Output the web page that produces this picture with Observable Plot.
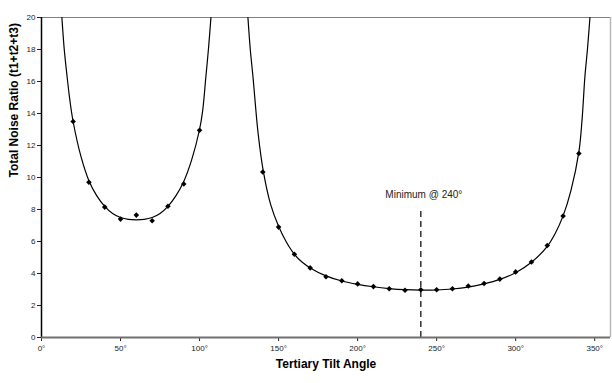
<!DOCTYPE html>
<html>
<head>
<meta charset="utf-8">
<script src="https://cdn.jsdelivr.net/npm/d3@7"></script>
<script src="https://cdn.jsdelivr.net/npm/@observablehq/plot@0.6"></script>
<style>
  html, body { margin: 0; padding: 0; background: #fff; }
  #chart svg { display: block; font-family: "Liberation Sans", Arial, sans-serif; }
</style>
</head>
<body>
<div id="chart"></div>
<script>
// Measured points
const pointAngles = [20, 30, 40, 50, 60, 70, 80, 90, 100,
  140, 150, 160, 170, 180, 190, 200, 210, 220, 230, 240, 250, 260, 270, 280, 290, 300, 310, 320, 330, 340];
const pointValues = [13.5, 9.7, 8.15, 7.4, 7.65, 7.3, 8.2, 9.6, 12.95,
  10.35, 6.9, 5.2, 4.35, 3.8, 3.55, 3.35, 3.18, 3.05, 2.95, 2.98, 2.98, 3.05, 3.22, 3.37, 3.65, 4.1, 4.72, 5.75, 7.6, 11.5];

// Fitted curve, left branch
const leftCurveAngles = [12.9, 14.4, 16.2, 18, 20, 25, 30, 35, 40, 45, 50, 55, 60, 65, 70, 75, 80, 85, 90, 95, 100, 102, 104, 105.6, 107.2];
const leftCurveValues = [20, 18, 16.3, 14.8, 13.5, 11.3, 9.8, 8.85, 8.2, 7.75, 7.5, 7.38, 7.35, 7.38, 7.5, 7.75, 8.2, 8.85, 9.75, 11.1, 13.0, 14.2, 16.3, 18, 20];

// Fitted curve, right branch
const rightCurveAngles = [130.6, 132.1, 133.8, 137, 140.5, 145, 150, 155, 160, 165, 170, 180, 190, 200, 210, 220, 230, 240, 250, 260, 270, 280, 290, 300, 310, 320, 325, 330, 335, 340, 342, 343.8, 345.4, 347];
const rightCurveValues = [20, 18, 16.3, 12.8, 10.3, 8.3, 6.95, 5.95, 5.2, 4.7, 4.35, 3.85, 3.53, 3.32, 3.17, 3.06, 2.99, 2.96, 2.97, 3.03, 3.15, 3.35, 3.63, 4.05, 4.7, 5.7, 6.5, 7.6, 9.2, 11.6, 13.6, 16.3, 18, 20];

const xTicks = [0, 50, 100, 150, 200, 250, 300, 350];
const yTicks = [0, 2, 4, 6, 8, 10, 12, 14, 16, 18, 20];

const minAngle = 240;
const minLineTop = 8.05;
const minLabel = "Minimum @ 240°";
const xTitle = "Tertiary Tilt Angle";
const yTitle = "Total Noise Ratio (t1+t2+t3)";

const points = pointAngles.map((a, i) => ({a, v: pointValues[i]}));
const leftCurve = leftCurveAngles.map((a, i) => ({a, v: leftCurveValues[i]}));
const rightCurve = rightCurveAngles.map((a, i) => ({a, v: rightCurveValues[i]}));

const chart = Plot.plot({
  width: 612,
  height: 383,
  marginTop: 17,
  marginBottom: 46,
  marginLeft: 41,
  marginRight: 2,
  style: {fontFamily: "Liberation Sans, Arial, sans-serif", background: "#fff"},
  x: {domain: [0, 360]},
  y: {domain: [0, 20]},
  marks: [
    // frame borders
    Plot.ruleY([20], {stroke: "#808080", strokeWidth: 1}),
    Plot.ruleX([360], {stroke: "#b8b8b8", strokeWidth: 1.5}),
    // dashed minimum line
    Plot.ruleX([minAngle], {y1: 0, y2: minLineTop, stroke: "#000", strokeWidth: 1.2, strokeDasharray: "6,4"}),
    Plot.text([minLabel], {x: minAngle, y: 8.9, text: d => d, fontSize: 10, fill: "#222", dx: 3}),
    // curves
    Plot.line(leftCurve, {x: "a", y: "v", curve: "catmull-rom", stroke: "#000", strokeWidth: 1.2}),
    Plot.line(rightCurve, {x: "a", y: "v", curve: "catmull-rom", stroke: "#000", strokeWidth: 1.2}),
    // points
    Plot.dot(points, {x: "a", y: "v", symbol: "diamond2", r: 2.5, fill: "#000", stroke: "none"}),
    // axes
    Plot.axisY({ticks: yTicks, tickSize: 4, tickFormat: d => d, fontSize: 8, color: "#222", label: null, tickPadding: 2}),
    Plot.axisX({ticks: xTicks, tickSize: 4, tickFormat: d => d + "°", fontSize: 8, color: "#222", label: null, tickPadding: 4}),
    Plot.ruleX([0], {stroke: "#000", strokeWidth: 1.5}),
    Plot.ruleY([0], {stroke: "#707070", strokeWidth: 2.2}),
    // titles
    Plot.text([xTitle], {frameAnchor: "bottom", dy: 30, text: d => d, fontSize: 12, fontWeight: "bold", fill: "#000"}),
    Plot.text([yTitle], {frameAnchor: "left", dx: -27, rotate: -90, text: d => d, fontSize: 12, fontWeight: "bold", fill: "#000"})
  ]
});
document.getElementById("chart").appendChild(chart);
</script>
</body>
</html>
